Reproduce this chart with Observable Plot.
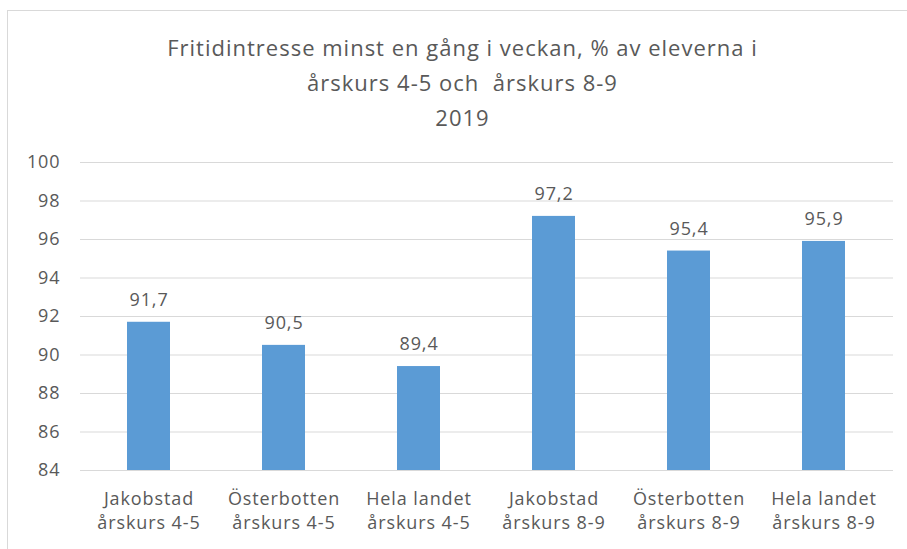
<!DOCTYPE html>
<html><head><meta charset="utf-8">
<script src="https://cdn.jsdelivr.net/npm/d3@7"></script>
<script src="https://cdn.jsdelivr.net/npm/@observablehq/plot@0.6"></script>
<style>
body{margin:0;background:#fff;font-family:"Open Sans",sans-serif;}
#frame{position:absolute;left:7px;top:10px;width:905px;height:560px;border:1px solid #d9d9d9;box-sizing:border-box;}
#title{position:absolute;left:0;top:30px;width:925px;text-align:center;color:#595959;font-size:22px;line-height:35px;letter-spacing:1px;}
#chart{position:absolute;left:0;top:140px;}
#chart svg text{letter-spacing:0.9px;}
</style></head>
<body>
<div id="frame"></div>
<div id="title">Fritidintresse minst en gång i veckan, % av eleverna i<br>årskurs 4-5 och &nbsp;årskurs 8-9<br>2019</div>
<div id="chart"></div>
<script>
const categories = ["Jakobstad\nårskurs 4-5","Österbotten\nårskurs 4-5","Hela landet\nårskurs 4-5","Jakobstad\nårskurs 8-9","Österbotten\nårskurs 8-9","Hela landet\nårskurs 8-9"];
const values = [91.7, 90.5, 89.4, 97.2, 95.4, 95.9];
const yTicks = [84,86,88,90,92,94,96,98,100];
const data = categories.map((c,i)=>({cat:c, v:values[i], label:String(values[i]).replace(".",",")}));
const chart = Plot.plot({
  width: 907, height: 409,
  marginTop: 22, marginBottom: 79, marginLeft: 80, marginRight: 14,
  style:{fontFamily:"'Open Sans', sans-serif", fontSize:"16px", color:"#595959", background:"transparent"},
  x:{domain:categories, paddingInner:0.68, paddingOuter:0.34, label:null},
  y:{domain:[84,100], ticks:yTicks, label:null},
  marks:[
    Plot.gridY(yTicks,{stroke:"#d9d9d9", strokeOpacity:1}),
    Plot.barY(data,{x:"cat", y1:84, y2:"v", fill:"#5b9bd5"}),
    Plot.text(data,{x:"cat", y:"v", text:"label", dy:-22, fontSize:18, fill:"#595959"}),
    Plot.axisY(yTicks,{tickSize:0, tickPadding:20, fontSize:18, fill:"#595959", label:null}),
    Plot.axisX({tickSize:0, tickPadding:18, fontSize:18, fill:"#595959", label:null, lineHeight:1.3})
  ]
});
document.getElementById("chart").appendChild(chart);
</script>
</body></html>
